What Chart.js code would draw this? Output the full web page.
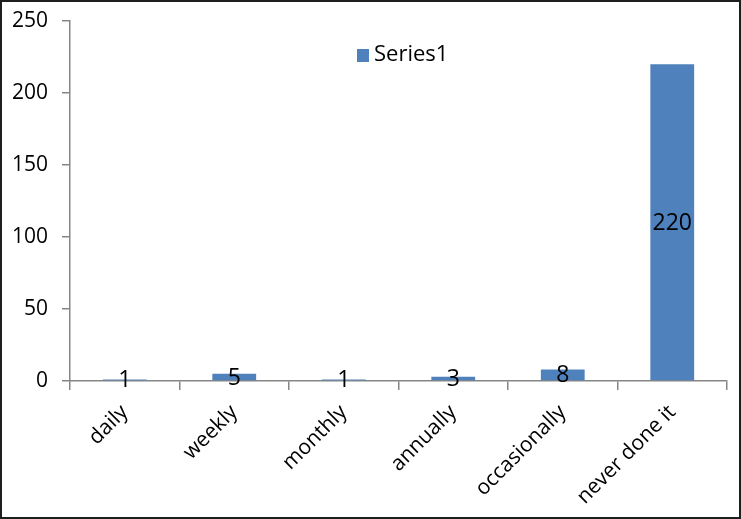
<!DOCTYPE html>
<html>
<head>
<meta charset="utf-8">
<script src="https://cdn.jsdelivr.net/npm/chart.js@4"></script>
<style>
    html, body { margin: 0; padding: 0; background: #fff; }
    #wrap {
        width: 741px;
        height: 519px;
        box-sizing: border-box;
        border: 2px solid #1e1e1e;
        position: relative;
    }
    #chart { display: block; }
</style>
</head>
<body>
<div id="wrap"><canvas id="chart" width="737" height="515"></canvas></div>
<script>
// Chart data
const categories = ['daily', 'weekly', 'monthly', 'annually', 'occasionally', 'never done it'];
const seriesValues = [1, 5, 1, 3, 8, 220];
const seriesName = 'Series1';
const yTicks = [0, 50, 100, 150, 200, 250];

const barColor = '#4F81BD';
const axisColor = '#868686';
const fontFamily = '"Open Sans", "Noto Sans", sans-serif';

// Value labels centred in each bar
const valueLabels = {
    id: 'valueLabels',
    afterDatasetsDraw(chart) {
        const ctx = chart.ctx;
        const meta = chart.getDatasetMeta(0);
        ctx.save();
        ctx.font = '23px ' + fontFamily;
        ctx.fillStyle = '#000';
        ctx.textAlign = 'center';
        ctx.textBaseline = 'middle';
        meta.data.forEach((bar, i) => {
            const mid = (bar.y + bar.base) / 2;
            ctx.fillText(String(seriesValues[i]), bar.x, mid + 1);
        });
        ctx.restore();
    }
};

// Legend drawn inside the plot area, like the original
const innerLegend = {
    id: 'innerLegend',
    afterDraw(chart) {
        const ctx = chart.ctx;
        const area = chart.chartArea;
        const x = area.left + 287;
        const y = area.top + 34;
        ctx.save();
        ctx.fillStyle = barColor;
        ctx.fillRect(x, y - 6, 12, 13);
        ctx.font = '22px ' + fontFamily;
        ctx.fillStyle = '#000';
        ctx.textAlign = 'left';
        ctx.textBaseline = 'middle';
        ctx.fillText(seriesName, x + 17, y);
        ctx.restore();
    }
};

const ctx = document.getElementById('chart').getContext('2d');
new Chart(ctx, {
    type: 'bar',
    data: {
        labels: categories,
        datasets: [{
            label: seriesName,
            data: seriesValues,
            backgroundColor: barColor,
            borderWidth: 0,
            barPercentage: 0.4,
            categoryPercentage: 1.0
        }]
    },
    options: {
        responsive: false,
        animation: false,
        layout: {
            padding: { top: 19, right: 12, left: 0, bottom: 0 }
        },
        plugins: {
            legend: { display: false },
            tooltip: { enabled: false }
        },
        scales: {
            x: {
                grid: {
                    display: true,
                    offset: true,
                    drawOnChartArea: false,
                    drawTicks: true,
                    tickLength: 9,
                    color: axisColor,
                    lineWidth: 1.5
                },
                border: { color: axisColor, width: 1.5 },
                ticks: {
                    color: '#000',
                    font: { family: fontFamily, size: 21 },
                    maxRotation: 45,
                    minRotation: 45,
                    padding: 10
                },
                afterFit(scale) {
                    scale.height = 136;
                    scale.paddingLeft = 0;
                    scale.paddingRight = 0;
                }
            },
            y: {
                min: 0,
                max: 250,
                afterBuildTicks(scale) {
                    scale.ticks = yTicks.map(v => ({ value: v }));
                },
                grid: {
                    display: true,
                    drawOnChartArea: false,
                    drawTicks: true,
                    tickLength: 8,
                    color: axisColor,
                    lineWidth: 1.5
                },
                border: { color: axisColor, width: 1.5 },
                ticks: {
                    color: '#000',
                    font: { family: fontFamily, size: 21 },
                    padding: 14
                },
                afterFit(scale) {
                    scale.width = 68;
                    scale.paddingTop = 0;
                    scale.paddingBottom = 0;
                }
            }
        }
    },
    plugins: [valueLabels, innerLegend]
});
</script>
</body>
</html>
